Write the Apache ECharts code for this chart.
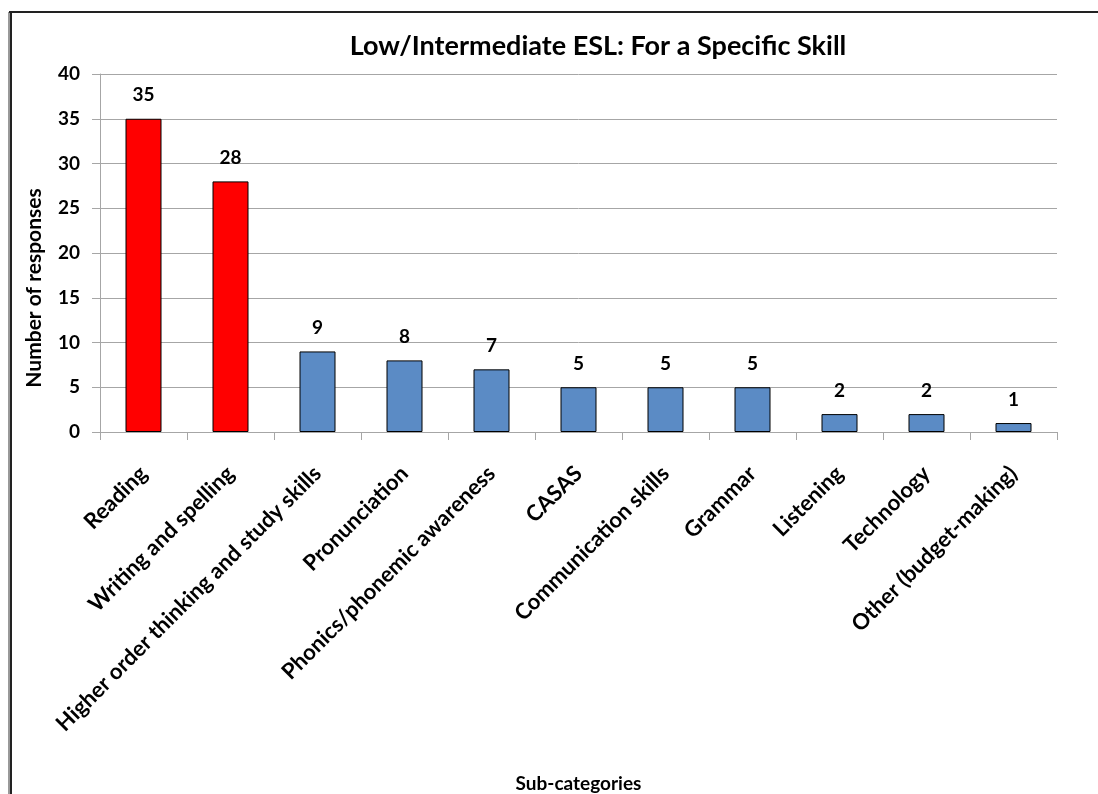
<!DOCTYPE html>
<html>
<head>
<meta charset="utf-8">
<script src="https://cdn.jsdelivr.net/npm/echarts@6/dist/echarts.min.js"></script>
<style>
  html, body { margin: 0; padding: 0; background: #fff; }
  #chart { width: 1098px; height: 794px; }
</style>
</head>
<body>
<div id="chart"></div>
<script>
var categories = ["Reading", "Writing and spelling", "Higher order thinking and study skills",
    "Pronunciation", "Phonics/phonemic awareness", "CASAS", "Communication skills",
    "Grammar", "Listening", "Technology", "Other (budget-making)"];
var responses = [35, 28, 9, 8, 7, 5, 5, 5, 2, 2, 1];
var highlighted = [true, true, false, false, false, false, false, false, false, false, false];
var yTicks = [0, 5, 10, 15, 20, 25, 30, 35, 40];

var FONT = "Lato";
var chart = echarts.init(document.getElementById("chart"));

chart.setOption({
    backgroundColor: "#fff",
    animation: false,
    textStyle: { fontFamily: FONT },
    title: {
        text: "Low/Intermediate ESL: For a Specific Skill",
        left: 593, top: 28, textAlign: "center",
        textStyle: { fontFamily: FONT, fontSize: 27, fontWeight: "bold", color: "#000" }
    },
    graphic: [
        // outer frame: left and top edges only show in the picture
        { type: "line", shape: { x1: 9, y1: 12, x2: 9, y2: 794 }, style: { stroke: "#999", lineWidth: 2 } },
        { type: "line", shape: { x1: 11, y1: 12, x2: 11, y2: 794 }, style: { stroke: "#222", lineWidth: 2 } },
        { type: "line", shape: { x1: 9, y1: 12, x2: 1098, y2: 12 }, style: { stroke: "#222", lineWidth: 2 } }
    ],
    grid: { left: 100, right: 41, top: 74, bottom: 362, outerBoundsMode: "none", containLabel: false },
    xAxis: {
        type: "category",
        data: categories,
        name: "Sub-categories",
        nameLocation: "middle",
        nameGap: 342,
        nameTextStyle: { fontFamily: FONT, fontSize: 19, fontWeight: "bold", color: "#000" },
        axisLine: { lineStyle: { color: "#a6a6a6" } },
        axisTick: { show: true, length: 8, lineStyle: { color: "#a6a6a6" } },
        axisLabel: {
            interval: 0, rotate: 45, margin: 38,
            fontFamily: FONT, fontSize: 22, fontWeight: "bold", color: "#000"
        }
    },
    yAxis: {
        type: "value",
        min: 0, max: 40, interval: 5,
        name: "Number of responses",
        nameLocation: "middle",
        nameGap: 55,
        nameTextStyle: { fontFamily: FONT, fontSize: 21, fontWeight: "bold", color: "#000", padding: [0, 0, 0, -70] },
        axisLine: { show: true, lineStyle: { color: "#a6a6a6" } },
        axisTick: { show: true, length: 8, lineStyle: { color: "#a6a6a6" } },
        splitLine: { lineStyle: { color: "#a6a6a6" } },
        axisLabel: {
            fontFamily: FONT, fontSize: 19, fontWeight: "bold", color: "#000", margin: 20,
            formatter: function (v) { return yTicks.indexOf(v) >= 0 ? String(v) : ""; }
        }
    },
    series: [{
        type: "bar",
        barWidth: 36,
        data: responses.map(function (v, i) {
            return {
                value: v,
                itemStyle: { color: highlighted[i] ? "#ff0000" : "#5b8bc5", borderColor: "#000", borderWidth: 1 }
            };
        }),
        label: {
            show: true, position: "top", distance: 14,
            fontFamily: FONT, fontSize: 19, fontWeight: "bold", color: "#000"
        }
    }]
});

window.addEventListener("resize", function () { chart.resize(); });
</script>
</body>
</html>
